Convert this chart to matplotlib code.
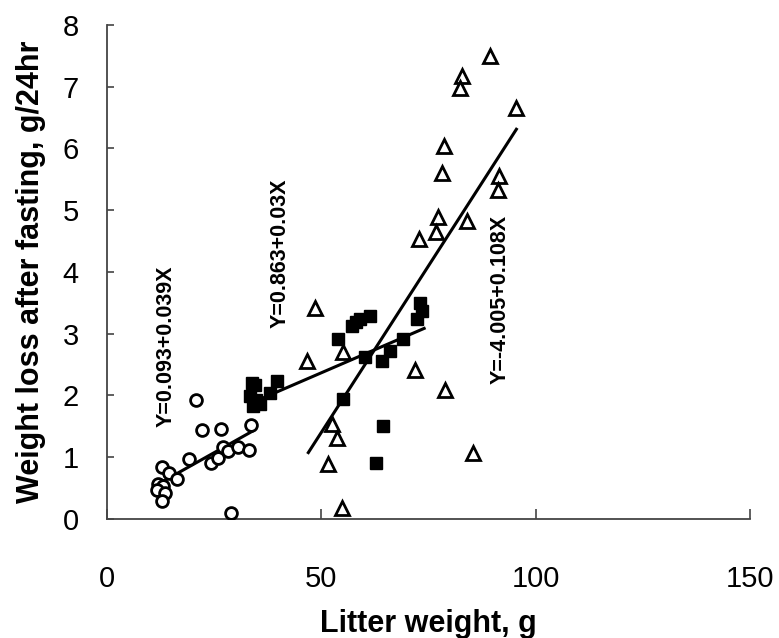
import matplotlib
matplotlib.use("Agg")
import matplotlib.pyplot as plt
import numpy as np

plt.rcParams['font.family'] = ['Liberation Sans', 'DejaVu Sans']

# open circles
circ_x = [20.8, 22.1, 26.6, 13.0, 14.5, 16.4, 12.0, 13.1, 11.7, 13.7, 13.0,
          19.1, 24.4, 25.9, 27.1, 28.2, 30.7, 33.1, 33.6, 28.9]
circ_y = [1.93, 1.43, 1.46, 0.83, 0.74, 0.64, 0.56, 0.53, 0.46, 0.42, 0.29,
          0.96, 0.91, 0.98, 1.16, 1.10, 1.16, 1.11, 1.51, 0.10]

# filled squares
sq_x = [33.8, 33.4, 34.5, 34.0, 35.7, 38.0, 39.7, 34.9, 55.1, 54.0, 57.1,
        59.0, 61.4, 60.2, 64.1, 66.0, 69.1, 72.3, 73.0, 73.4, 64.5, 62.8, 58.0]
sq_y = [2.20, 1.98, 2.16, 1.83, 1.85, 2.04, 2.23, 1.93, 1.94, 2.91, 3.12,
        3.24, 3.29, 2.62, 2.55, 2.71, 2.91, 3.23, 3.50, 3.36, 1.50, 0.91, 3.18]

# open triangles
tri_x = [48.5, 46.7, 55.1, 71.9, 52.4, 53.6, 51.6, 54.8, 85.5, 78.9, 89.4,
         82.8, 82.4, 95.4, 78.6, 78.1, 91.5, 91.3, 77.3, 76.8, 84.1, 72.9]
tri_y = [3.41, 2.56, 2.70, 2.41, 1.54, 1.30, 0.88, 0.17, 1.06, 2.08, 7.49,
         7.17, 6.98, 6.66, 6.03, 5.60, 5.55, 5.33, 4.89, 4.64, 4.83, 4.53]

# regression lines: intercept, slope, x range, label
fits = [(0.093, 0.039, 13.0, 34.0, "Y=0.093+0.039X"),
        (0.863, 0.03, 34.0, 74.0, "Y=0.863+0.03X"),
        (-4.005, 0.108, 47.0, 95.5, "Y=-4.005+0.108X")]
label_pos = [(13.8, 2.8), (40.5, 4.3), (91.8, 3.55)]

fig = plt.figure(figsize=(7.79, 6.38), dpi=100)
ax = fig.add_axes([0.137, 0.187, 0.826, 0.774])

ax.plot(circ_x, circ_y, 'o', ms=8.5, mfc='white', mec='black', mew=2.0, zorder=3)
ax.plot(tri_x, tri_y, '^', ms=9.5, mfc='white', mec='black', mew=2.0, zorder=3)
ax.plot(sq_x, sq_y, 's', ms=8, mfc='black', mec='black', zorder=4)

for (a, b, x0, x1, txt), (tx, ty) in zip(fits, label_pos):
    xs = np.array([x0, x1])
    ax.plot(xs, a + b * xs, '-', color='black', lw=2.2, zorder=2)
    ax.text(tx, ty, txt, rotation=90, ha='center', va='center',
            fontsize=15.5, fontweight='bold')

ax.set_xlim(0, 150)
ax.set_ylim(0, 8)
ax.set_xticks([0, 50, 100, 150])
ax.set_yticks(range(0, 9))

for s in ['top', 'right']:
    ax.spines[s].set_visible(False)
for s in ['left', 'bottom']:
    ax.spines[s].set_color('#444444')
    ax.spines[s].set_linewidth(1.3)

ax.tick_params(axis='x', direction='in', length=7, width=1.2, color='#444444',
               pad=33, labelsize=21)
ax.tick_params(axis='y', direction='in', length=5, width=1.2, color='#444444',
               pad=20, labelsize=21)

ax.set_xlabel('Litter weight, g', fontsize=22, fontweight='bold', labelpad=12)
ax.set_ylabel('Weight loss after fasting, g/24hr', fontsize=22,
              fontweight='bold', labelpad=12)

fig.savefig('out.png', dpi=100)
